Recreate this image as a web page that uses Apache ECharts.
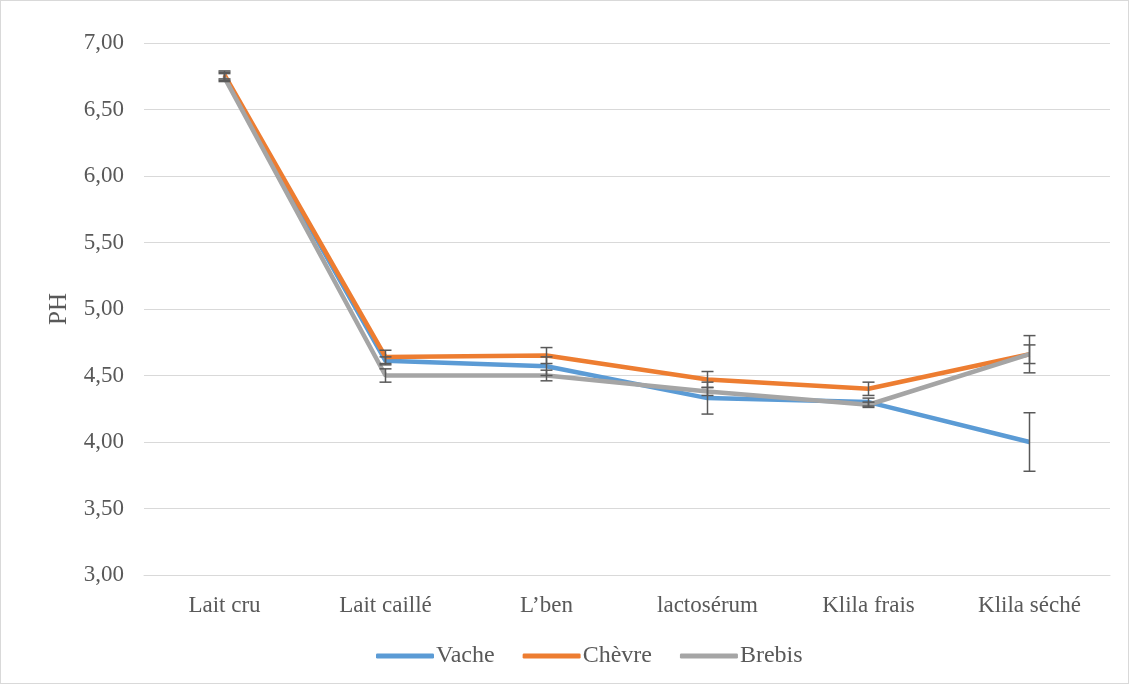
<!DOCTYPE html>
<html>
<head>
<meta charset="utf-8">
<script src="https://cdn.jsdelivr.net/npm/echarts@6/dist/echarts.min.js"></script>
<style>
  html, body { margin: 0; padding: 0; background: #fff; }
  #main { width: 1127px; height: 682px; border: 1px solid #d9d9d9; }
</style>
</head>
<body>
<div id="main"></div>
<script>
var categories = ['Lait cru', 'Lait caillé', 'L\u2019ben', 'lactosérum', 'Klila frais', 'Klila séché'];
var vache = [6.75, 4.61, 4.57, 4.33, 4.30, 4.00];
var chevre = [6.76, 4.64, 4.65, 4.47, 4.40, 4.66];
var brebis = [6.74, 4.50, 4.50, 4.38, 4.28, 4.66];
var vacheErr = [0.03, 0.03, 0.07, 0.12, 0.03, 0.22];
var chevreErr = [0.03, 0.05, 0.06, 0.06, 0.05, 0.14];
var brebisErr = [0.03, 0.05, 0.04, 0.03, 0.02, 0.07];

var dom = document.getElementById('main');
var myChart = echarts.init(dom, null, { renderer: 'canvas' });

function errorSeries(vals, errs) {
  var data = vals.map(function (v, i) { return [i, v - errs[i], v + errs[i]]; });
  return {
    type: 'custom',
    z: 10,
    silent: true,
    renderItem: function (params, api) {
      var x = api.value(0);
      var lo = api.coord([x, api.value(1)]);
      var hi = api.coord([x, api.value(2)]);
      var hw = 6;
      var st = { stroke: '#595959', lineWidth: 1.5 };
      return {
        type: 'group',
        children: [
          { type: 'line', shape: { x1: lo[0], y1: lo[1], x2: hi[0], y2: hi[1] }, style: st },
          { type: 'line', shape: { x1: lo[0] - hw, y1: lo[1], x2: lo[0] + hw, y2: lo[1] }, style: st },
          { type: 'line', shape: { x1: hi[0] - hw, y1: hi[1], x2: hi[0] + hw, y2: hi[1] }, style: st }
        ]
      };
    },
    encode: { x: 0, y: [1, 2] },
    data: data
  };
}

function lineSeries(name, vals, color) {
  return {
    name: name,
    type: 'line',
    data: vals,
    symbol: 'none',
    lineStyle: { width: 4.5, color: color },
    itemStyle: { color: color }
  };
}

var option = {
  animation: false,
  textStyle: { fontFamily: 'Liberation Serif' },
  grid: { left: 143, right: 18, top: 42, bottom: 108 },
  legend: {
    bottom: 10,
    left: 370,
    itemWidth: 58,
    itemHeight: 5,
    itemGap: 28,
    icon: 'roundRect',
    textStyle: { fontFamily: 'Liberation Serif', fontSize: 24, color: '#595959', padding: [0, 0, 0, -3] },
    data: ['Vache', 'Chèvre', 'Brebis']
  },
  xAxis: {
    type: 'category',
    data: categories,
    boundaryGap: true,
    axisLine: { lineStyle: { color: '#d9d9d9', width: 1 } },
    axisTick: { show: false },
    axisLabel: { fontFamily: 'Liberation Serif', fontSize: 23, color: '#595959', margin: 19 }
  },
  yAxis: {
    type: 'value',
    min: 3,
    max: 7,
    interval: 0.5,
    name: 'PH',
    nameLocation: 'middle',
    nameGap: 72,
    nameTextStyle: { fontFamily: 'Liberation Serif', fontSize: 25, color: '#595959' },
    axisLine: { show: false },
    axisTick: { show: false },
    splitLine: { lineStyle: { color: '#d9d9d9', width: 1 } },
    axisLabel: {
      fontFamily: 'Liberation Serif',
      fontSize: 23,
      color: '#595959',
      margin: 20,
      formatter: function (v) { return v.toFixed(2).replace('.', ','); }
    }
  },
  series: [
    lineSeries('Vache', vache, '#5b9bd5'),
    lineSeries('Chèvre', chevre, '#ed7d31'),
    lineSeries('Brebis', brebis, '#a5a5a5'),
    errorSeries(vache, vacheErr),
    errorSeries(chevre, chevreErr),
    errorSeries(brebis, brebisErr)
  ]
};

myChart.setOption(option);
window.addEventListener('resize', myChart.resize);
</script>
</body>
</html>
